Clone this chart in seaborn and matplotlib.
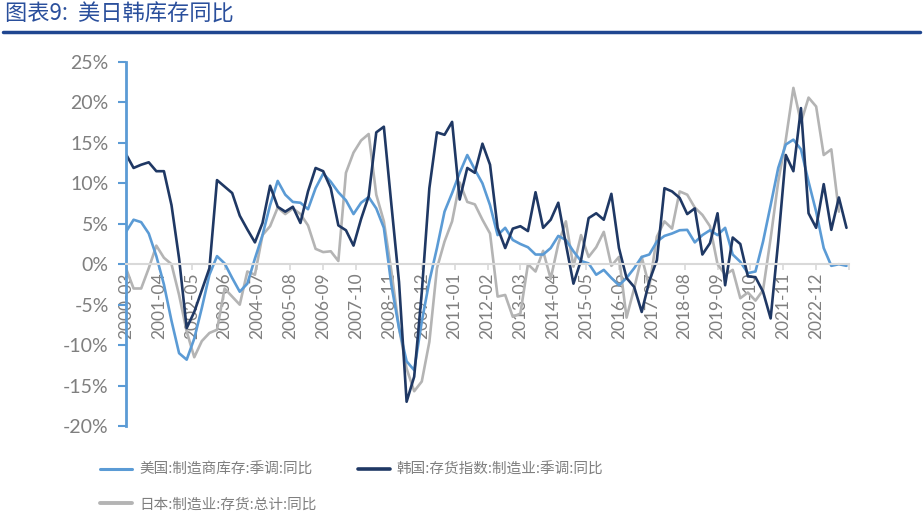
import numpy as np
import pandas as pd
import matplotlib
matplotlib.use("Agg")
import matplotlib.pyplot as plt
import seaborn as sns
from matplotlib.lines import Line2D

# ---------------- data (quarterly, 2000-03 .. 2023-12) ----------------
start_period = "2000-03"
n_quarters = 96

us_yoy = [4.0, 5.5, 5.2, 3.8, 1.0, -2.5, -7.0, -11.0, -11.8, -9.2, -5.4, -1.3,
          1.0, 0.1, -1.7, -3.4, -2.4, 0.7, 3.6, 7.3, 10.3, 8.6, 7.7, 7.6,
          6.8, 9.4, 11.2, 10.2, 8.9, 7.9, 6.2, 7.6, 8.3, 6.9, 4.5, -2.6,
          -7.9, -12.0, -13.1, -7.1, -2.1, 2.0, 6.5, 8.8, 11.3, 13.5, 11.7, 10.0,
          7.3, 3.6, 4.5, 3.0, 2.5, 2.1, 1.2, 1.2, 2.0, 3.5, 3.0, 1.6,
          0.4, 0.1, -1.3, -0.7, -1.7, -2.6, -1.7, -0.5, 0.9, 1.2, 2.8, 3.5,
          3.8, 4.2, 4.25, 2.7, 3.6, 4.2, 3.6, 4.5, 1.2, 0.3, -1.1, -0.9,
          2.8, 7.3, 11.9, 14.8, 15.4, 14.2, 10.2, 6.5, 2.0, -0.2, 0.0, -0.2]

kr_yoy = [13.6, 11.9, 12.3, 12.6, 11.5, 11.5, 7.3, 0.7, -7.9, -5.9, -3.2, -0.5,
          10.4, 9.6, 8.8, 6.0, 4.3, 2.7, 5.1, 9.7, 7.1, 6.5, 7.1, 5.1,
          9.0, 11.9, 11.5, 9.4, 4.8, 4.2, 2.3, 5.6, 8.4, 16.3, 17.0, 7.3,
          -2.2, -17.0, -13.9, -3.5, 9.4, 16.3, 16.0, 17.6, 8.0, 11.9, 11.3, 14.9,
          12.3, 4.5, 2.0, 4.4, 4.7, 4.1, 8.9, 4.5, 5.5, 7.6, 2.5, -2.4,
          0.5, 5.7, 6.3, 5.5, 8.7, 2.0, -1.7, -2.8, -5.9, -2.1, 0.5, 9.4,
          9.0, 8.2, 6.2, 6.9, 1.2, 2.6, 6.3, -2.6, 3.3, 2.5, -1.5, -1.6,
          -3.4, -6.7, 2.8, 13.5, 11.5, 19.3, 6.3, 4.5, 9.9, 4.25, 8.25, 4.5]

jp_yoy = [-0.5, -3.0, -3.0, -0.5, 2.3, 0.8, 0.0, -3.8, -8.3, -11.5, -9.5, -8.5,
          -8.1, -3.0, -4.0, -5.0, -0.9, -1.3, 3.6, 4.7, 7.0, 6.2, 6.9, 6.2,
          4.8, 1.9, 1.5, 1.6, 0.4, 11.3, 13.8, 15.3, 16.1, 8.6, 5.3, -0.9,
          -7.9, -12.9, -15.7, -14.5, -9.6, -0.5, 2.8, 5.3, 10.1, 7.7, 7.4, 5.5,
          3.8, -4.0, -3.8, -6.5, -6.1, 0.0, -0.9, 1.65, -1.8, 2.5, 5.3, -0.3,
          3.6, 0.9, 2.1, 4.0, -0.2, 0.9, -6.6, -3.0, 0.9, -2.8, 3.4, 5.3,
          4.4, 9.0, 8.6, 7.0, 6.1, 4.7, 0.0, -1.3, -0.7, -4.2, -3.5, -4.5,
          -3.2, 3.2, 10.2, 15.4, 21.8, 17.5, 20.6, 19.5, 13.5, 14.2, 6.5, np.nan]

tick_labels = ["2000-03", "2001-04", "2002-05", "2003-06", "2004-07", "2005-08",
               "2006-09", "2007-10", "2008-11", "2009-12", "2011-01", "2012-02",
               "2013-03", "2014-04", "2015-05", "2016-06", "2017-07", "2018-08",
               "2019-09", "2020-10", "2021-11", "2022-12"]

series_names = ["美国:制造商库存:季调:同比",
                "韩国:存货指数:制造业:季调:同比",
                "日本:制造业:存货:总计:同比"]
colors = ["#5B9BD5", "#1F3864", "#B4B4B4"]

# month offset from 2000-03 for each quarterly observation
dates = pd.period_range(start_period, periods=n_quarters, freq="Q-FEB").asfreq("M", "start")
base = pd.Period(start_period, freq="M")
months = np.array([(d - base).n for d in dates])

df = pd.DataFrame({"m": months, "us": us_yoy, "kr": kr_yoy, "jp": jp_yoy})

# ---------------- style ----------------
sns.set_style("white")
plt.rcParams["font.family"] = ["Lato", "Noto Sans CJK SC", "DejaVu Sans"]
cjk = ["Noto Sans CJK SC", "DejaVu Sans"]

fig = plt.figure(figsize=(9.23, 5.2), dpi=100)
ax = fig.add_axes([126 / 923, 1 - 426 / 520, (849 - 126) / 923, (426 - 62) / 520])

lw = 1.9
sns.lineplot(data=df, x="m", y="jp", ax=ax, color=colors[2], linewidth=lw)
sns.lineplot(data=df, x="m", y="us", ax=ax, color=colors[0], linewidth=lw)
sns.lineplot(data=df, x="m", y="kr", ax=ax, color=colors[1], linewidth=lw)

ax.spines["bottom"].set_position(("data", 0))
ax.spines["top"].set_visible(False)
ax.spines["right"].set_visible(False)

ax.set_xlim(0, 286)
ax.set_ylim(-20, 25)
ax.set_xlabel("")
ax.set_ylabel("")

# y axis
yt = np.arange(-20, 26, 5)
ax.set_yticks(yt)
ax.set_yticklabels([f"{v}%" for v in yt])
ax.tick_params(axis="y", direction="out", length=5.5, width=1.5, color="#5B9BD5",
               labelsize=14, labelcolor="#7F7F7F", pad=7, left=True)
ax.spines["left"].set_color("#5B9BD5")
ax.spines["left"].set_linewidth(2)

# x axis at zero
xt = np.arange(0, 287, 13)
ax.set_xticks(xt)
ax.set_xticklabels(tick_labels + [""])
ax.spines["bottom"].set_color("#D9D9D9")
ax.spines["bottom"].set_linewidth(1.5)
ax.tick_params(axis="x", direction="out", length=4, width=1.2, color="#D9D9D9",
               labelsize=12.5, labelcolor="#7F7F7F", pad=2, bottom=True,
               labelrotation=90)
ax.grid(False)

# title and rule
fig.text(5 / 923, 1 - 14 / 520, "图表9:  美日韩库存同比", family=cjk, fontsize=16,
         color="#2A4F9C", va="center", ha="left", style="italic")
fig.add_artist(Line2D([3 / 923, 920 / 923], [1 - 32 / 520, 1 - 32 / 520],
                      color="#1F4690", linewidth=2.5))

# legend
handles = [Line2D([], [], color=colors[0], linewidth=2.2),
           Line2D([], [], color=colors[2], linewidth=2.8),
           Line2D([], [], color=colors[1], linewidth=2.6)]
labels = [series_names[0], series_names[2], series_names[1]]
leg = fig.legend(handles, labels, loc="upper left", ncol=2,
                 bbox_to_anchor=(100 / 923, 1 - 463 / 520), frameon=False,
                 prop={"family": cjk, "size": 10.5}, handlelength=2.2,
                 handletextpad=0.5, columnspacing=2.8, labelspacing=1.4,
                 borderpad=0, borderaxespad=0)
for t in leg.get_texts():
    t.set_color("#7F7F7F")

fig.savefig("out.png", dpi=100)
